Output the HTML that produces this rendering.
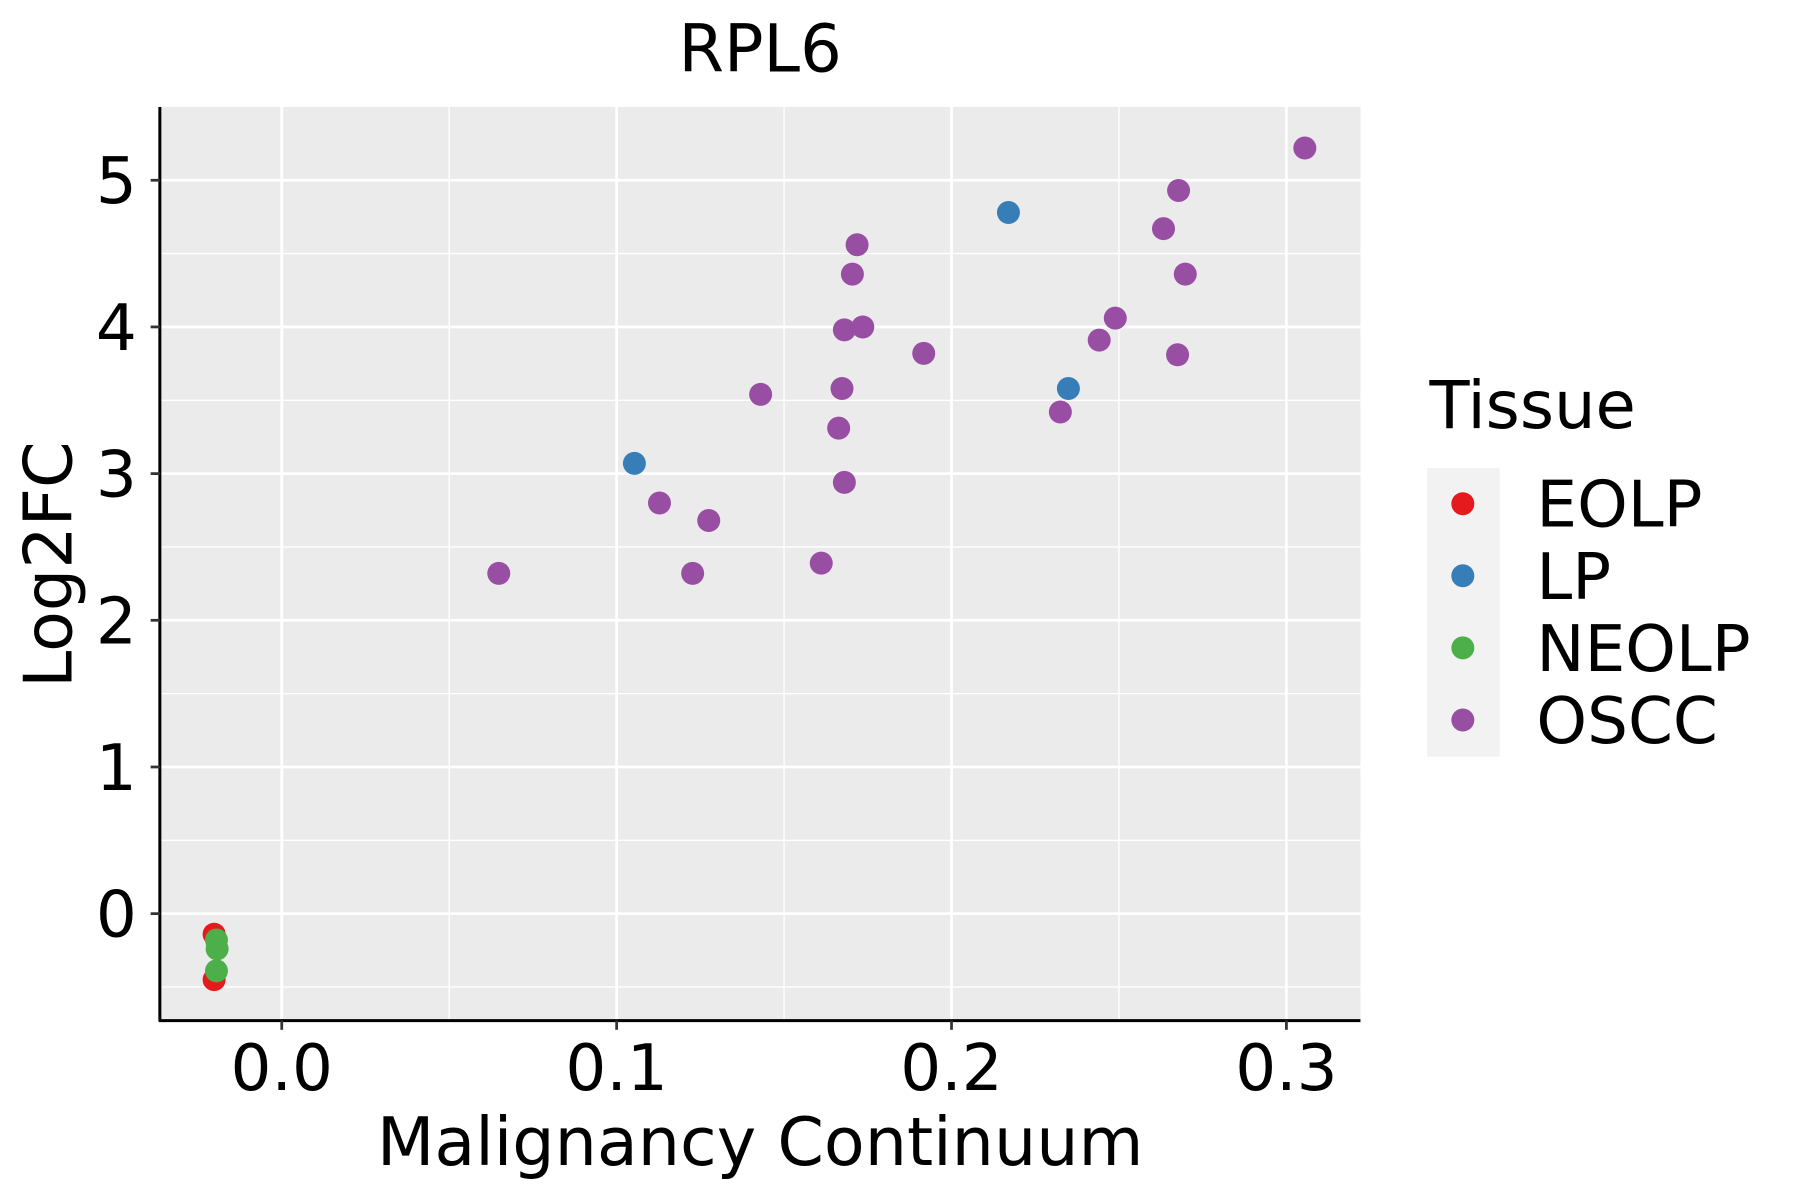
<!DOCTYPE html>
<html><head><meta charset="utf-8"><style>html,body{margin:0;padding:0;background:#fff}svg{display:block}text{font-family:"DejaVu Sans","Liberation Sans",sans-serif;fill:#000}</style></head>
<body>
<svg id="chart" width="1800" height="1200" viewBox="0 0 1565.2 1043.5" preserveAspectRatio="none" xmlns="http://www.w3.org/2000/svg">
<rect x="139" y="93" width="1044" height="794.5" fill="#ebebeb"/>
<g id="grid"></g>
<g id="points"></g>
<line x1="139" y1="93" x2="139" y2="888" stroke="#000" stroke-width="2.6"/>
<line x1="138" y1="887.5" x2="1183" y2="887.5" stroke="#000" stroke-width="2.6"/>
<g id="ticks"></g>
<text x="661" y="62" font-size="57" text-anchor="middle">RPL6</text>
<text x="661" y="1013" font-size="58" text-anchor="middle">Malignancy Continuum</text>
<text x="0" y="0" font-size="58" text-anchor="middle" transform="translate(62,491) rotate(-90)">Log2FC</text>
<text x="1243" y="372" font-size="57">Tissue</text>
<rect x="1241" y="407" width="63" height="251" fill="#f2f2f2"/>
<g id="legend"></g>
</svg>
<script>
const xTicks=[0.0,0.1,0.2,0.3];
const xTickLabels=["0.0","0.1","0.2","0.3"];
const yTicks=[0,1,2,3,4,5];
const yTickLabels=["0","1","2","3","4","5"];
const groups=["EOLP","LP","NEOLP","OSCC"];
const groupColors=["#e41a1c","#377eb8","#4daf4a","#984ea3"];
const eolpX=[-0.0202,-0.0202];
const eolpY=[-0.14,-0.45];
const lpX=[0.1053,0.217,0.2349];
const lpY=[3.07,4.78,3.58];
const neolpX=[-0.0195,-0.0193,-0.0195];
const neolpY=[-0.18,-0.24,-0.39];
const osccX=[0.3055,0.2678,0.2633,0.2698,0.2489,0.2441,0.2675,0.2325,0.1917,0.1718,0.1704,0.1735,0.168,0.1673,0.1663,0.168,0.1611,0.143,0.1128,0.1275,0.1227,0.0648];
const osccY=[5.22,4.93,4.67,4.36,4.06,3.91,3.81,3.42,3.82,4.56,4.36,4.00,3.98,3.58,3.31,2.94,2.39,3.54,2.80,2.68,2.32,2.32];
const NS="http://www.w3.org/2000/svg";
const X0=245,XS=2912,Y0=794.5,YS=127.55,L=139,R=1183,T=93,B=887.5;
const sx=v=>X0+v*XS, sy=v=>Y0-v*YS;
function mk(tag,attrs,parent){const e=document.createElementNS(NS,tag);for(const k in attrs)e.setAttribute(k,attrs[k]);parent.appendChild(e);return e;}
const grid=document.getElementById('grid'),ticks=document.getElementById('ticks');
for(let i=0;i<xTicks.length;i++){
  const v=xTicks[i],x=sx(v);
  const g=mk('line',{x1:x,x2:x,y1:T,y2:B,stroke:'#fff','stroke-width':2.4},grid);
  
  
  if(i<xTicks.length-1){const xm=sx(v+0.05);const m=mk('line',{x1:xm,x2:xm,y1:T,y2:B,stroke:'#fff','stroke-width':1.2},grid);
  
  }
  const t=mk('line',{x1:x,x2:x,y1:B,y2:B+8,stroke:'#333','stroke-width':2.4},ticks);
  
  
  const tx=mk('text',{x:x,y:948,'font-size':56,'text-anchor':'middle'},ticks);tx.textContent=xTickLabels[i];
  
  
}
for(const vm of [-0.5,0.5,1.5,2.5,3.5,4.5]){const y=sy(vm);const m=mk('line',{x1:L,x2:R,y1:y,y2:y,stroke:'#fff','stroke-width':1.2},grid);
  
  }
for(let i=0;i<yTicks.length;i++){
  const y=sy(yTicks[i]);
  const g=mk('line',{x1:L,x2:R,y1:y,y2:y,stroke:'#fff','stroke-width':2.4},grid);
  
  
  const t=mk('line',{x1:L-8,x2:L,y1:y,y2:y,stroke:'#333','stroke-width':2.4},ticks);
  
  
  const tx=mk('text',{x:119,y:y+20,'font-size':56,'text-anchor':'end'},ticks);tx.textContent=yTickLabels[i];
  
  
}
const pts=document.getElementById('points');
const series=[[eolpX,eolpY],[lpX,lpY],[neolpX,neolpY],[osccX,osccY]];
for(let s=0;s<series.length;s++){
  const [xs,ys]=series[s];
  for(let i=0;i<xs.length;i++){
    const c=mk('circle',{cx:sx(xs[i]),cy:sy(ys[i]),r:10,fill:groupColors[s]},pts);
    
    
  }
}
const lg=document.getElementById('legend');
for(let i=0;i<groups.length;i++){
  const y=438+i*62.7;
  const c=mk('circle',{cx:1272,cy:y,r:10,fill:groupColors[i]},lg);
  
  
  const t=mk('text',{x:1336,y:y+20,'font-size':56},lg);t.textContent=groups[i];
  
  
}
</script>
</body></html>
